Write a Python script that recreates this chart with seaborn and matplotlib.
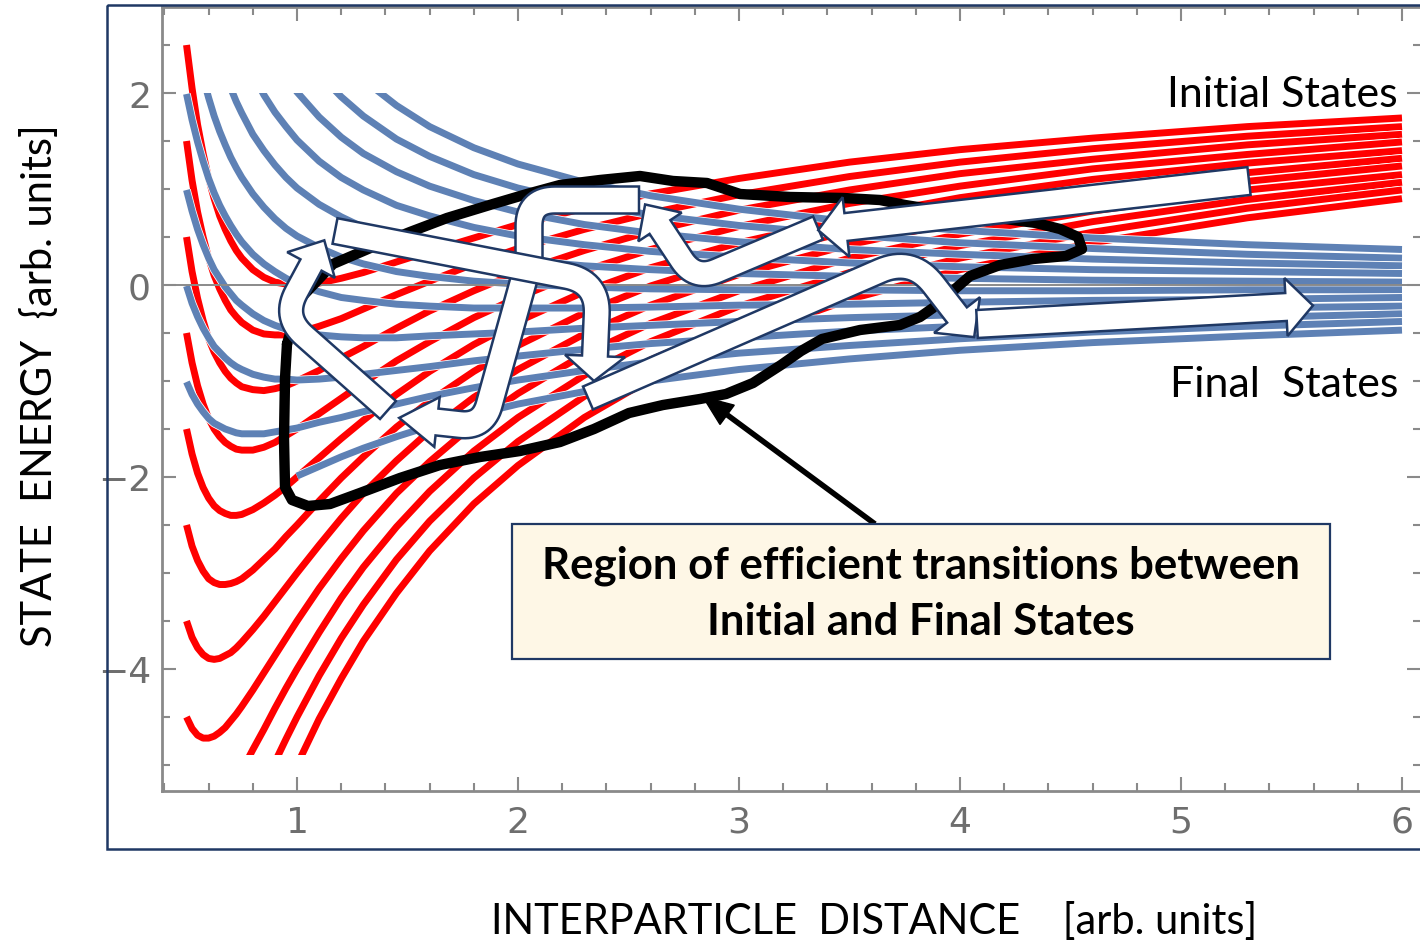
import numpy as np
import pandas as pd
import matplotlib
matplotlib.use("Agg")
import matplotlib.pyplot as plt
import matplotlib.transforms as mtransforms
from matplotlib import patheffects as pe
from matplotlib.patches import Polygon, Rectangle
from matplotlib.lines import Line2D
from matplotlib.ticker import MultipleLocator
import seaborn as sns

# ---------------- data ----------------
distance = [0.50, 0.525, 0.55, 0.575, 0.60, 0.625, 0.65, 0.675, 0.70, 0.725, 0.75,
            0.80, 0.85, 0.90, 0.95, 1.00, 1.10, 1.20, 1.30, 1.45, 1.60, 1.80, 2.00,
            2.30, 2.60, 3.00, 3.50, 4.00, 4.60, 5.30, 6.00]

# red curves ("Initial States")
initial_states = [
    [2.50, 2.05, 1.67, 1.37, 1.11, 0.90, 0.72, 0.58, 0.46, 0.36, 0.28,
     0.16, 0.08, 0.03, 0.01, 0.00, 0.02, 0.07, 0.13, 0.24, 0.35, 0.49, 0.63, 0.80, 0.95, 1.11, 1.28, 1.41, 1.53, 1.65, 1.74],
    [1.50, 1.09, 0.76, 0.50, 0.28, 0.10, -0.04, -0.16, -0.26, -0.33, -0.39,
     -0.47, -0.51, -0.52, -0.52, -0.50, -0.43, -0.35, -0.25, -0.10, 0.04, 0.22, 0.38, 0.58, 0.75, 0.94, 1.13, 1.28, 1.42, 1.55, 1.65],
    [0.50, 0.14, -0.14, -0.37, -0.56, -0.70, -0.81, -0.90, -0.97, -1.02, -1.06,
     -1.09, -1.10, -1.08, -1.05, -1.00, -0.89, -0.76, -0.64, -0.45, -0.27, -0.06, 0.13, 0.36, 0.56, 0.78, 0.99, 1.16, 1.31, 1.46, 1.57],
    [-0.50, -0.81, -1.05, -1.24, -1.39, -1.50, -1.58, -1.64, -1.68, -1.71, -1.72,
     -1.72, -1.69, -1.64, -1.57, -1.50, -1.34, -1.18, -1.02, -0.79, -0.59, -0.34, -0.13, 0.15, 0.37, 0.61, 0.85, 1.03, 1.21, 1.36, 1.49],
    [-1.50, -1.76, -1.96, -2.11, -2.22, -2.30, -2.35, -2.38, -2.40, -2.40, -2.39,
     -2.34, -2.27, -2.19, -2.10, -2.00, -1.80, -1.60, -1.41, -1.14, -0.90, -0.62, -0.38, -0.07, 0.18, 0.44, 0.70, 0.91, 1.10, 1.27, 1.40],
    [-2.50, -2.72, -2.87, -2.98, -3.06, -3.10, -3.12, -3.12, -3.11, -3.09, -3.06,
     -2.97, -2.86, -2.75, -2.62, -2.50, -2.25, -2.01, -1.79, -1.48, -1.21, -0.90, -0.63, -0.29, -0.01, 0.28, 0.56, 0.78, 0.99, 1.17, 1.32],
    [-3.50, -3.67, -3.78, -3.85, -3.89, -3.90, -3.89, -3.86, -3.83, -3.78, -3.72,
     -3.59, -3.45, -3.30, -3.15, -3.00, -2.71, -2.43, -2.17, -1.83, -1.52, -1.17, -0.88, -0.51, -0.21, 0.11, 0.42, 0.66, 0.88, 1.08, 1.24],
    [-4.50, -4.62, -4.69, -4.72, -4.72, -4.70, -4.66, -4.61, -4.54, -4.47, -4.39,
     -4.22, -4.04, -3.86, -3.68, -3.50, -3.16, -2.85, -2.56, -2.17, -1.84, -1.45, -1.13, -0.72, -0.40, -0.06, 0.28, 0.53, 0.77, 0.99, 1.15],
    [None] * 10 + [-5.06, -4.84, -4.63, -4.41, -4.20, -4.00, -3.62, -3.26, -2.94, -2.52, -2.15, -1.73, -1.38, -0.94, -0.59, -0.22, 0.13, 0.41, 0.66, 0.89, 1.07],
    [None] * 13 + [-4.97, -4.73, -4.50, -4.07, -3.68, -3.33, -2.86, -2.46, -2.01, -1.63, -1.16, -0.78, -0.39, -0.01, 0.28, 0.55, 0.80, 0.99],
    [None] * 15 + [-5.00, -4.52, -4.10, -3.71, -3.21, -2.77, -2.28, -1.88, -1.38, -0.98, -0.56, -0.15, 0.16, 0.44, 0.70, 0.90],
]

# blue curves ("Final States")
final_states = [
    [None] * 18 + [2.14, 1.87, 1.65, 1.43, 1.26, 1.07, 0.93, 0.79, 0.66, 0.57, 0.49, 0.42, 0.37],
    [None] * 16 + [2.20, 1.96, 1.76, 1.52, 1.34, 1.15, 1.01, 0.85, 0.73, 0.62, 0.52, 0.44, 0.38, 0.32, 0.28],
    [None] * 14 + [2.17, 2.01, 1.75, 1.54, 1.37, 1.18, 1.03, 0.88, 0.76, 0.63, 0.54, 0.45, 0.37, 0.32, 0.27, 0.23, 0.20],
    [None] * 11 + [2.20, 1.98, 1.80, 1.65, 1.51, 1.29, 1.12, 0.99, 0.83, 0.72, 0.60, 0.51, 0.42, 0.35, 0.29, 0.23, 0.19, 0.16, 0.14, 0.12],
    [None] * 7 + [2.20, 2.05, 1.91, 1.79, 1.57, 1.40, 1.25, 1.12, 1.01, 0.84, 0.71, 0.60, 0.49, 0.40, 0.32, 0.26, 0.20, 0.16, 0.12, 0.09, 0.07, 0.05, 0.04, 0.03],
    [None] * 3 + [2.16, 1.95, 1.76, 1.60, 1.46, 1.33, 1.22, 1.12, 0.95, 0.81, 0.69, 0.59, 0.51, 0.39, 0.29, 0.22, 0.14, 0.09, 0.04, 0.01, -0.02, -0.04, -0.05, -0.05, -0.06, -0.06, -0.05, -0.05],
    [1.99, 1.72, 1.49, 1.29, 1.11, 0.96, 0.83, 0.72, 0.62, 0.53, 0.45,
     0.32, 0.22, 0.14, 0.07, 0.01, -0.07, -0.13, -0.16, -0.20, -0.22, -0.24, -0.24, -0.24, -0.23, -0.21, -0.20, -0.18, -0.16, -0.15, -0.13],
    [0.99, 0.77, 0.58, 0.42, 0.28, 0.16, 0.07, -0.02, -0.09, -0.16, -0.21,
     -0.30, -0.37, -0.42, -0.46, -0.49, -0.52, -0.54, -0.55, -0.55, -0.53, -0.51, -0.49, -0.45, -0.42, -0.38, -0.34, -0.31, -0.27, -0.24, -0.22],
    [-0.01, -0.19, -0.33, -0.45, -0.55, -0.64, -0.70, -0.76, -0.81, -0.85, -0.88,
     -0.93, -0.96, -0.98, -0.98, -0.99, -0.98, -0.96, -0.93, -0.89, -0.85, -0.79, -0.74, -0.67, -0.61, -0.55, -0.48, -0.43, -0.38, -0.34, -0.30],
    [-1.01, -1.14, -1.24, -1.32, -1.39, -1.44, -1.47, -1.50, -1.52, -1.54, -1.55,
     -1.55, -1.55, -1.53, -1.51, -1.49, -1.43, -1.38, -1.32, -1.24, -1.16, -1.07, -0.99, -0.89, -0.80, -0.71, -0.63, -0.56, -0.49, -0.43, -0.38],
    [None] * 15 + [-1.99, -1.89, -1.79, -1.70, -1.58, -1.47, -1.35, -1.24, -1.11, -1.00, -0.88, -0.77, -0.68, -0.60, -0.53, -0.47],
]

x_ticks = [1, 2, 3, 4, 5, 6]
y_ticks = [-4, -2, 0, 2]
x_label = "INTERPARTICLE  DISTANCE    [arb. units]"
y_label = "STATE  ENERGY  {arb. units]"
label_initial = "Initial States"
label_final = "Final  States"
box_lines = ["Region of efficient transitions between", "Initial and Final States"]

RED = "#FF0000"
BLUE = "#5E81B5"
NAVY = "#1F3864"

# ---------------- figure ----------------
sns.set_style("white")
plt.rcParams["font.family"] = ["Lato", "DejaVu Sans"]

W, H = 1420, 945
fig = plt.figure(figsize=(W / 100, H / 100), dpi=100)
ax = fig.add_axes([162 / W, (H - 792) / H, (1421 - 162) / W, (792 - 8) / H])
pxT = mtransforms.Affine2D().scale(1 / W, -1 / H).translate(0, 1) + fig.transFigure


def long_form(curves, name):
    rows = []
    for i, vals in enumerate(curves):
        for r, e in zip(distance, vals):
            if e is not None:
                rows.append((name, i, r, e))
    return pd.DataFrame(rows, columns=["family", "curve", "distance", "energy"])


df_red = long_form(initial_states, "initial")
df_blue = long_form(final_states, "final")

LW = 5.0
halo = [pe.Stroke(linewidth=LW + 1.1, foreground="white"), pe.Normal()]

n0 = len(ax.lines)
sns.lineplot(data=df_red, x="distance", y="energy", units="curve", estimator=None,
             sort=False, color=RED, linewidth=LW, ax=ax, legend=False)
red_clip = Rectangle((0.3, -4.9), 6.0, 8.5, transform=ax.transData)
for ln in ax.lines[n0:]:
    ln.set_clip_path(red_clip)
    ln.set_path_effects(halo)
    ln.set_solid_capstyle("butt")
    ln.set_solid_joinstyle("round")
    ln.set_zorder(2)

n1 = len(ax.lines)
sns.lineplot(data=df_blue, x="distance", y="energy", units="curve", estimator=None,
             sort=False, color=BLUE, linewidth=LW, ax=ax, legend=False)
blue_clip = Rectangle((0.3, -6.0), 6.0, 8.0, transform=ax.transData)
for ln in ax.lines[n1:]:
    ln.set_clip_path(blue_clip)
    ln.set_path_effects(halo)
    ln.set_solid_capstyle("butt")
    ln.set_solid_joinstyle("round")
    ln.set_zorder(3)

ax.axhline(0, color="#8a8a8a", lw=1.4, zorder=4)

ax.set_xlim(0.389, 6.086)
ax.set_ylim(-5.271, 2.896)
ax.set_xlabel("")
ax.set_ylabel("")
ax.set_xticks(x_ticks)
ax.set_yticks(y_ticks)
ax.xaxis.set_minor_locator(MultipleLocator(0.2))
ax.yaxis.set_minor_locator(MultipleLocator(0.5))
ax.tick_params(which="both", direction="in", top=True, right=True, bottom=True, left=True,
               color="#8a8a8a", width=1.5, labelcolor="#6e6e6e", labelsize=26)
ax.tick_params(which="major", length=10)
ax.tick_params(which="minor", length=6)
ax.tick_params(axis="x", pad=10)
ax.tick_params(axis="y", pad=8)
for lab in ax.get_xticklabels() + ax.get_yticklabels():
    lab.set_fontfamily(["Liberation Sans Narrow", "DejaVu Sans"])
for s in ax.spines.values():
    s.set_color("#8a8a8a")
    s.set_linewidth(2.0)

# outer frame of the slide graphic
fig.add_artist(Rectangle((107, 6), 1400, 844, transform=pxT, fill=False,
                         edgecolor=NAVY, lw=1.8, zorder=1))


# ---------------- annotations (pixel geometry) ----------------
def rounded_path(pts, radii, n=18):
    P = np.asarray(pts, float)
    if np.isscalar(radii):
        radii = [radii] * (len(P) - 2)
    out = [P[0]]
    for i in range(1, len(P) - 1):
        p0, p1, p2 = P[i - 1], P[i], P[i + 1]
        d1 = p1 - p0
        l1 = np.hypot(*d1)
        d1 = d1 / l1
        d2 = p2 - p1
        l2 = np.hypot(*d2)
        d2 = d2 / l2
        r = min(radii[i - 1], 0.5 * l1, 0.5 * l2)
        a = p1 - d1 * r
        b = p1 + d2 * r
        t = np.linspace(0, 1, n)[:, None]
        out.extend(list((1 - t) ** 2 * a + 2 * (1 - t) * t * p1 + t ** 2 * b))
    out.append(P[-1])
    out = np.array(out)
    keep = np.r_[True, np.hypot(*np.diff(out, axis=0).T) > 1e-6]
    return out[keep]


def block_arrow(pts, radii, width, head_len, head_half):
    c = rounded_path(pts, radii)
    t = np.gradient(c, axis=0)
    t /= np.hypot(t[:, 0], t[:, 1])[:, None]
    nrm = np.column_stack([-t[:, 1], t[:, 0]])
    left = c + nrm * width / 2
    right = c - nrm * width / 2
    tip = c[-1] + t[-1] * head_len
    b1 = c[-1] + nrm[-1] * head_half
    b2 = c[-1] - nrm[-1] * head_half
    return np.vstack([left, b1, tip, b2, right[::-1]])


# hand drawn black outline of the region
loop = [(287, 345), (285, 380), (284, 440), (285, 488), (292, 501), (308, 507), (330, 505),
        (360, 494), (400, 479), (440, 466), (480, 458), (520, 452), (560, 443), (594, 430),
        (629, 414), (663, 406), (700, 400), (726, 395), (753, 384), (781, 366), (801, 352),
        (822, 340), (860, 331), (900, 326), (920, 318), (940, 304), (955, 290), (970, 277),
        (1000, 266), (1033, 260), (1066, 257), (1082, 250), (1078, 238), (1060, 230),
        (1036, 224), (990, 218), (930, 210), (905, 206), (880, 201), (843, 199), (790, 198),
        (740, 195), (707, 184), (673, 182), (640, 177), (600, 181), (560, 186), (527, 195),
        (493, 205), (447, 219), (410, 233), (375, 247), (333, 265), (300, 300), (287, 345)]
lx, ly = zip(*loop)
fig.add_artist(Line2D(lx, ly, transform=pxT, color="black", lw=7.5,
                      solid_joinstyle="round", solid_capstyle="round", zorder=5))

arrows = [
    dict(pts=[(639, 201), (529, 201), (529, 262), (483, 428), (437, 423)], radii=[26, 5, 35],
         width=27, head_len=38, head_half=25),
    dict(pts=[(388, 411), (283, 318), (311, 266)], radii=[28], width=24, head_len=28, head_half=27),
    dict(pts=[(335, 232), (598, 283), (595, 357)], radii=[32], width=26, head_len=25, head_half=30),
    dict(pts=[(588, 399), (912, 258), (957, 316)], radii=[35], width=25, head_len=28, head_half=29),
    dict(pts=[(818, 229), (695, 281), (660, 228)], radii=[24], width=25, head_len=27, head_half=26),
    dict(pts=[(1249, 182), (846, 228)], radii=[], width=28, head_len=28, head_half=30),
    dict(pts=[(977, 325), (1286, 308)], radii=[], width=28, head_len=27, head_half=29),
]
for i, a in enumerate(arrows):
    poly = block_arrow(a["pts"], a["radii"], a["width"], a["head_len"], a["head_half"])
    fig.add_artist(Polygon(poly, closed=True, transform=pxT, facecolor="white",
                           edgecolor=NAVY, lw=1.8, joinstyle="miter", zorder=6 + i * 0.1))

# pointer arrow from the text box
tail = np.array([875.0, 525.0])
tipp = np.array([703.0, 398.0])
u = (tipp - tail) / np.hypot(*(tipp - tail))
base = tipp - u * 30
perp = np.array([-u[1], u[0]])
fig.add_artist(Line2D([tail[0], base[0]], [tail[1], base[1]], transform=pxT,
                      color="black", lw=4.0, solid_capstyle="butt", zorder=7))
fig.add_artist(Polygon([base + perp * 12, tipp, base - perp * 12], closed=True,
                       transform=pxT, facecolor="black", edgecolor="black", lw=1, zorder=7))

# text box
fig.add_artist(Rectangle((512, 525), 818, 135, transform=pxT, facecolor="#FEF7E6",
                         edgecolor=NAVY, lw=1.6, zorder=8))
fig.text(921, 566, box_lines[0], transform=pxT, ha="center", va="center",
         fontsize=31.5, fontweight="bold", color="black", zorder=9)
fig.text(921, 622, box_lines[1], transform=pxT, ha="center", va="center",
         fontsize=31.5, fontweight="bold", color="black", zorder=9)

# state labels
fig.text(1398, 95, label_initial, transform=pxT, ha="right", va="center",
         fontsize=31, color="black", zorder=9)
fig.text(1398, 385, label_final, transform=pxT, ha="right", va="center",
         fontsize=31, color="black", zorder=9)

# axis titles
fig.text(40, 386, y_label, transform=pxT, rotation=90, ha="center", va="center",
         fontsize=30, color="black")
fig.text(874, 922, x_label, transform=pxT, ha="center", va="center",
         fontsize=30, color="black")

fig.savefig("out.png", dpi=100)
